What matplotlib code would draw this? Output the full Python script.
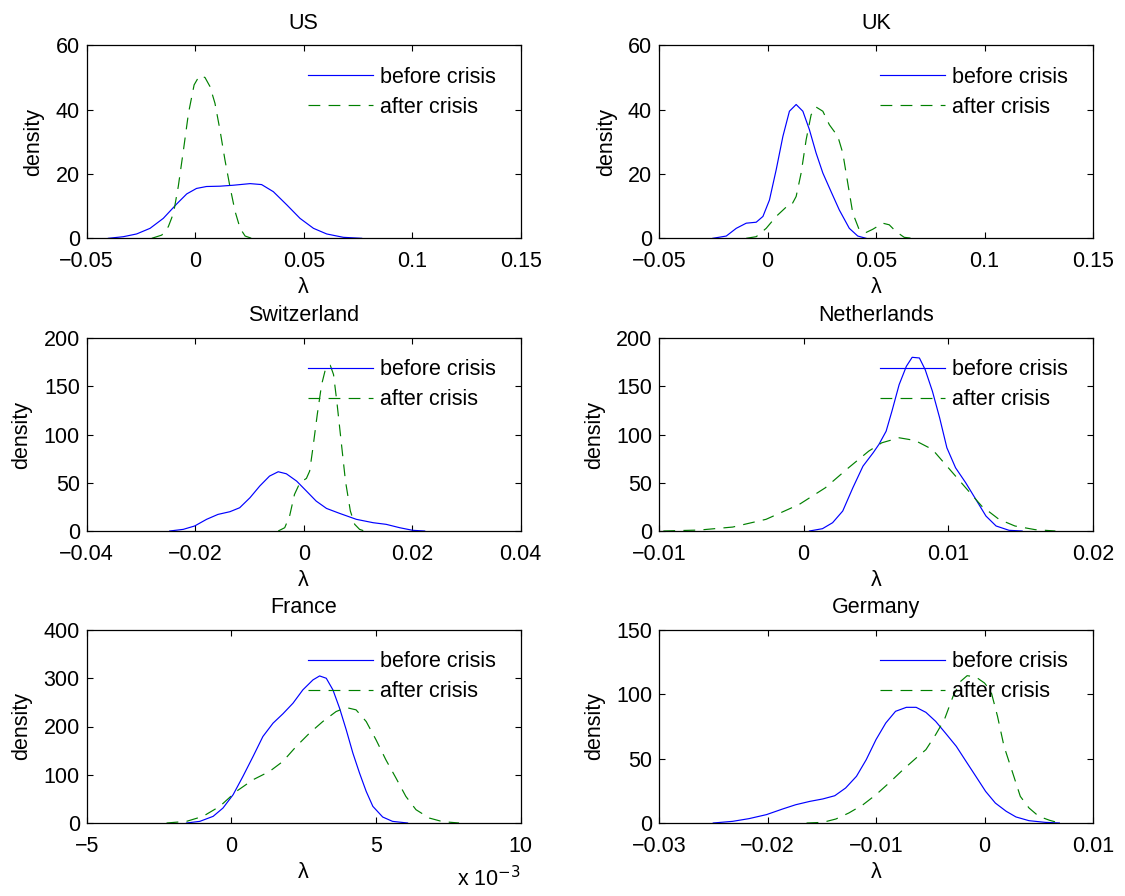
import matplotlib
matplotlib.use("Agg")
import matplotlib.pyplot as plt
from matplotlib.ticker import FuncFormatter

plt.rcParams['font.family'] = ['Liberation Sans', 'DejaVu Sans']
plt.rcParams['axes.unicode_minus'] = True

# ---------------- data ----------------
titles = ["US", "UK", "Switzerland", "Netherlands", "France", "Germany"]
legend_labels = ["before crisis", "after crisis"]

us_before_x = [-0.040, -0.0331, -0.027, -0.0208, -0.0147, -0.0085, -0.0039, 0.0006, 0.0052,
               0.0114, 0.0176, 0.0253, 0.0306, 0.036, 0.0422, 0.0483, 0.0545, 0.0606, 0.0683, 0.0767]
us_before_y = [0, 0.5, 1.35, 3.1, 6.2, 10.7, 13.8, 15.5, 16.1,
               16.2, 16.5, 17.0, 16.7, 14.5, 10.4, 6.2, 3.1, 1.35, 0.3, 0]
us_after_x = [-0.020, -0.0154, -0.0124, -0.010, -0.0078, -0.0054, -0.0031, -0.0005, 0.0019,
              0.0045, 0.0068, 0.0091, 0.0114, 0.0137, 0.016, 0.0184, 0.0207, 0.023, 0.026]
us_after_y = [0, 1.0, 3.6, 7.8, 16.1, 27.5, 38.9, 47.7, 50.5,
              50.0, 47.2, 42.0, 33.7, 24.4, 16.1, 8.3, 3.1, 0.7, 0]

uk_before_x = [-0.0252, -0.019, -0.0144, -0.0098, -0.0052, -0.0021, 0.0009, 0.004, 0.0071, 0.0101,
               0.0132, 0.0163, 0.0193, 0.0224, 0.0255, 0.0293, 0.0331, 0.0377, 0.0416, 0.0454]
uk_before_y = [0, 0.7, 3.1, 4.7, 5.0, 6.8, 11.9, 21.3, 31.7, 39.5,
               41.6, 39.5, 33.8, 26.5, 20.3, 14.5, 8.8, 3.1, 0.7, 0]
uk_after_x = [-0.0098, -0.0052, -0.0006, 0.004, 0.0086, 0.0109, 0.0132, 0.0155, 0.0178, 0.0201,
              0.0224, 0.0255, 0.0285, 0.0324, 0.0347, 0.037, 0.0393, 0.0423, 0.0454, 0.0485,
              0.0531, 0.0561, 0.0592, 0.063, 0.0669]
uk_after_y = [0, 0.5, 3.1, 6.8, 9.7, 10.1, 13.0, 20.3, 30.6, 38.4,
              40.8, 39.5, 35.3, 31.7, 26.5, 17.1, 7.8, 2.6, 1.8, 2.8,
              4.7, 4.2, 2.1, 0.3, 0]

ch_before_x = [-0.0247, -0.0222, -0.0201, -0.0179, -0.0158, -0.0136, -0.0118, -0.0099, -0.0081,
               -0.0063, -0.0047, -0.0032, -0.0013, 0.0005, 0.0023, 0.0042, 0.0066, 0.0097,
               0.0128, 0.0152, 0.0177, 0.0201, 0.0223]
ch_before_y = [0, 1.7, 5.2, 12.1, 17.2, 20.0, 24.1, 34.5, 46.6,
               56.9, 61.4, 59.3, 51.7, 41.4, 31.0, 23.4, 18.3, 12.1,
               8.6, 6.9, 3.4, 0.7, 0]
ch_after_x = [-0.0047, -0.0035, -0.0026, -0.0017, -0.0007, 0.0005, 0.0011, 0.0017, 0.0025, 0.0033,
              0.0041, 0.0049, 0.0055, 0.0061, 0.0069, 0.0077, 0.0086, 0.0094, 0.0103, 0.0112]
ch_after_y = [0, 3.4, 15.5, 37.9, 50.0, 54.5, 62.1, 86.2, 120.7, 151.7,
              169.7, 171.7, 162.1, 134.5, 93.1, 51.7, 20.7, 6.9, 1.7, 0]

nl_before_x = [0.0004, 0.0013, 0.002, 0.0027, 0.0034, 0.0041, 0.0048, 0.0052, 0.0057, 0.0061,
               0.0066, 0.0071, 0.0075, 0.008, 0.0084, 0.0089, 0.0094, 0.0099, 0.0105, 0.0112,
               0.0119, 0.0126, 0.0133, 0.0142, 0.0151]
nl_before_y = [0, 2.4, 8.6, 20.7, 44.8, 67.2, 81.0, 89.7, 103.4, 124.1,
               151.7, 170.7, 180.0, 179.3, 167.2, 144.8, 117.2, 86.2, 65.5, 50.0,
               32.8, 15.5, 5.2, 0.7, 0]
nl_after_x = [-0.0097, -0.0072, -0.0049, -0.0026, -0.0003, 0.0015, 0.0031, 0.0045, 0.0054, 0.0066,
              0.0077, 0.0089, 0.010, 0.0112, 0.0123, 0.0135, 0.0146, 0.016, 0.0174]
nl_after_y = [0, 1.0, 4.1, 12.1, 27.6, 44.8, 65.5, 82.8, 91.4, 96.6,
              93.8, 84.5, 65.5, 44.8, 25.9, 12.1, 5.2, 1.4, 0]

# France lambda values are in units of 1e-3
fr_before_x = [-1.55, -1.09, -0.63, -0.29, 0.06, 0.40, 0.75, 1.09, 1.44, 1.78, 2.13, 2.47, 2.82,
               3.05, 3.28, 3.51, 3.74, 3.97, 4.20, 4.43, 4.66, 4.89, 5.23, 5.57, 6.09]
fr_before_y = [0, 3.4, 13.8, 31.0, 58.6, 96.6, 137.9, 179.3, 206.9, 226.2, 248.3, 275.9, 296.6,
               304.8, 300.0, 275.9, 237.9, 193.1, 144.8, 103.4, 65.5, 34.5, 12.4, 3.4, 0]
fr_after_x = [-2.24, -1.55, -0.98, -0.40, 0.17, 0.75, 1.32, 1.78, 2.24, 2.70, 3.16, 3.62,
              3.97, 4.31, 4.66, 5.00, 5.34, 5.69, 6.03, 6.38, 6.84, 7.30, 7.87]
fr_after_y = [0, 3.4, 13.8, 34.5, 65.5, 89.7, 106.9, 127.6, 158.6, 186.2, 210.3, 231.0,
              239.3, 234.5, 210.3, 172.4, 131.0, 93.1, 55.2, 27.6, 10.3, 2.8, 0]

de_before_x = [-0.025, -0.0232, -0.0217, -0.0201, -0.0186, -0.0174, -0.0161, -0.0149, -0.0138,
               -0.0128, -0.0118, -0.0109, -0.010, -0.0091, -0.0082, -0.0072, -0.0063, -0.0054,
               -0.0045, -0.0036, -0.0026, -0.0017, -0.0008, 0.0001, 0.001, 0.002, 0.0029,
               0.0041, 0.0056, 0.0069]
de_before_y = [0, 1.3, 3.4, 6.5, 10.9, 14.2, 16.8, 18.7, 21.2,
               27.2, 36.3, 49.2, 64.8, 77.7, 86.8, 89.9, 89.9, 86.0,
               79.0, 69.9, 59.6, 47.9, 36.3, 24.6, 15.5, 9.1, 4.7,
               1.8, 0.5, 0]
de_after_x = [-0.0164, -0.0149, -0.0137, -0.0125, -0.0112, -0.010, -0.0088, -0.0075, -0.0063,
              -0.0054, -0.0045, -0.0037, -0.0029, -0.0022, -0.0016, -0.0008, 0.0, 0.0006,
              0.0012, 0.0018, 0.0026, 0.0033, 0.0041, 0.005, 0.006, 0.0069]
de_after_y = [0, 0.5, 3.1, 7.8, 14.2, 22.0, 31.1, 41.5, 50.5,
              57.0, 68.7, 80.3, 98.4, 110.1, 114.5, 113.5, 108.8, 102.3,
              82.9, 59.6, 38.9, 20.7, 11.7, 5.2, 2.1, 0]

panels = [
    (us_before_x, us_before_y, us_after_x, us_after_y, [-0.05, 0, 0.05, 0.1, 0.15], [0, 20, 40, 60]),
    (uk_before_x, uk_before_y, uk_after_x, uk_after_y, [-0.05, 0, 0.05, 0.1, 0.15], [0, 20, 40, 60]),
    (ch_before_x, ch_before_y, ch_after_x, ch_after_y, [-0.04, -0.02, 0, 0.02, 0.04], [0, 50, 100, 150, 200]),
    (nl_before_x, nl_before_y, nl_after_x, nl_after_y, [-0.01, 0, 0.01, 0.02], [0, 50, 100, 150, 200]),
    (fr_before_x, fr_before_y, fr_after_x, fr_after_y, [-5, 0, 5, 10], [0, 100, 200, 300, 400]),
    (de_before_x, de_before_y, de_after_x, de_after_y, [-0.03, -0.02, -0.01, 0, 0.01], [0, 50, 100, 150]),
]

# ---------------- figure ----------------
W, H = 1125, 896
fig = plt.figure(figsize=(W / 100, H / 100), dpi=100)
FS = 15.5

col_left = [86.7, 659.0]
ax_w = 434.0
row_top = [45.3, 338.0, 630.0]
ax_h = 193.0

fmt = FuncFormatter(lambda v, p: ('%g' % v).replace('-', '\u2212'))

for i, (bx, by, axx, ayy, xt, yt) in enumerate(panels):
    r, c = divmod(i, 2)
    l = col_left[c] / W
    b = 1 - (row_top[r] + ax_h) / H
    ax = fig.add_axes([l, b, ax_w / W, ax_h / H])
    ax.plot(bx, by, color=(0, 0, 1), lw=0.85, label=legend_labels[0])
    ax.plot(axx, ayy, color=(0, 0.5, 0), lw=0.85, dashes=(10, 7), label=legend_labels[1])
    ax.set_xlim(xt[0], xt[-1])
    ax.set_ylim(yt[0], yt[-1])
    ax.set_xticks(xt)
    ax.set_yticks(yt)
    ax.xaxis.set_major_formatter(fmt)
    ax.yaxis.set_major_formatter(fmt)
    ax.tick_params(direction='in', top=True, right=True, length=4, width=0.8,
                   labelsize=FS)
    ax.tick_params(axis='x', pad=9)
    ax.tick_params(axis='y', pad=5)
    for s in ax.spines.values():
        s.set_linewidth(0.9)
    ax.set_title(titles[i], fontsize=FS, pad=12)
    ax.set_xlabel('\u03bb', fontsize=FS, labelpad=4)
    ax.set_ylabel('density', fontsize=FS, labelpad=8)
    ax.legend(loc='upper left', bbox_to_anchor=(0.51, 0.89), frameon=False,
              fontsize=FS, handlelength=3.0, handletextpad=0.35, labelspacing=0.42,
              borderpad=0, borderaxespad=0)
    if titles[i] == "France":
        ax.text(1.0, -0.29, 'x 10$^{-3}$', transform=ax.transAxes, ha='right', va='center',
                fontsize=FS)

fig.savefig('out.png', dpi=100)
